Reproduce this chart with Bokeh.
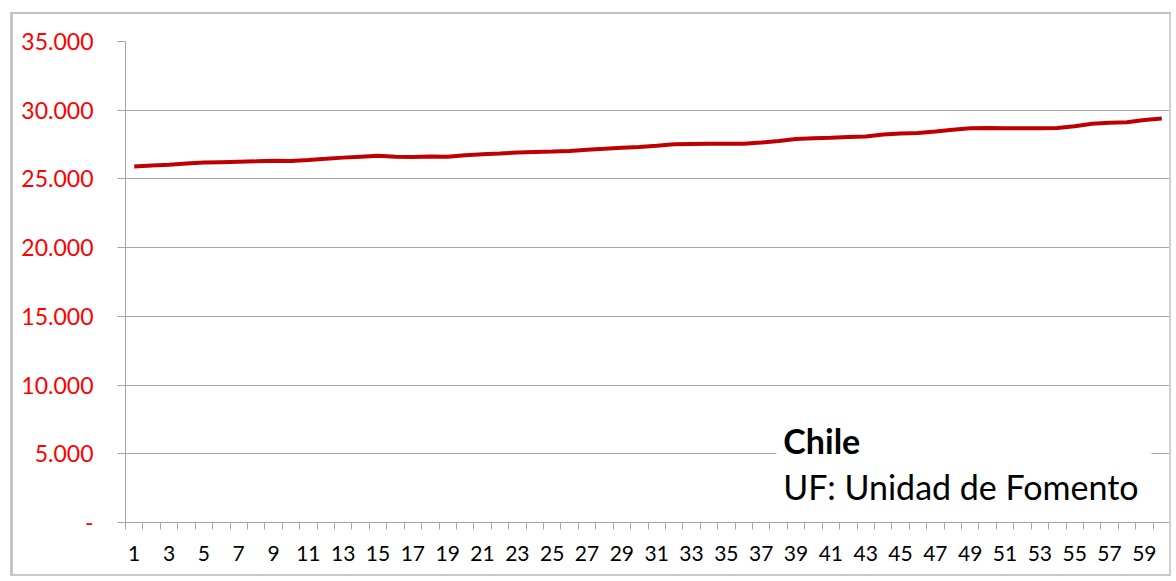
from bokeh.plotting import figure
from bokeh.models import FixedTicker, Label, BoxAnnotation, ColumnDataSource
from bokeh.embed import file_html
from bokeh.resources import INLINE

# Data
periods = list(range(1, 61))
uf_values = [
    25900, 25980, 26040, 26120, 26190, 26220, 26250, 26280, 26330, 26310,
    26380, 26460, 26550, 26620, 26680, 26620, 26600, 26640, 26620, 26720,
    26800, 26850, 26920, 26960, 26990, 27040, 27130, 27190, 27260, 27330,
    27420, 27520, 27550, 27560, 27560, 27560, 27650, 27760, 27900, 27960,
    28000, 28050, 28080, 28230, 28300, 28340, 28450, 28580, 28680, 28700,
    28690, 28680, 28680, 28710, 28840, 29020, 29080, 29130, 29290, 29400,
]
y_ticks = [0, 5000, 10000, 15000, 20000, 25000, 30000, 35000]
y_tick_labels = ["-", "5.000", "10.000", "15.000", "20.000", "25.000", "30.000", "35.000"]
x_label_ticks = list(range(1, 61, 2))
title_text = "Chile"
subtitle_text = "UF: Unidad de Fomento"

FONT = "Lato"
GRID = "#a6a6a6"

p = figure(width=1161, height=564, output_backend="svg", toolbar_location=None,
           x_range=(0.5, 60.5), y_range=(0, 35000),
           min_border_left=112, min_border_right=4, min_border_top=27, min_border_bottom=56)
p.styles = {"margin-left": "10px", "margin-top": "12px",
            "border-left": "3px solid #c6c6c6", "border-top": "2px solid #c0c0c0",
            "border-right": "2px solid #d0d0d0", "border-bottom": "2px solid #c8c8c8"}
p.outline_line_color = None
p.background_fill_color = "white"
p.border_fill_color = "white"

src = ColumnDataSource(dict(x=periods, y=uf_values))
p.line("x", "y", source=src, line_color="#c00000", line_width=4)

# y axis
p.yaxis.ticker = FixedTicker(ticks=y_ticks)
p.yaxis.major_label_overrides = {t: l for t, l in zip(y_ticks, y_tick_labels)}
p.yaxis.major_label_text_color = "#ff0000"
p.yaxis.major_label_text_font = FONT
p.yaxis.major_label_text_font_size = "23px"
p.yaxis.major_label_standoff = 24
p.yaxis.axis_line_color = GRID
p.yaxis.major_tick_line_color = GRID
p.yaxis.major_tick_in = 0
p.yaxis.major_tick_out = 8
p.yaxis.minor_tick_line_color = None

# x axis
bounds = [i + 0.5 for i in range(0, 61)]
p.xaxis.ticker = FixedTicker(ticks=x_label_ticks, minor_ticks=bounds)
p.xaxis.major_label_text_font = FONT
p.xaxis.major_label_text_font_size = "21px"
p.xaxis.major_label_text_color = "black"
p.xaxis.major_label_standoff = 16
p.xaxis.axis_line_color = GRID
p.xaxis.major_tick_line_color = None
p.xaxis.major_tick_in = 0
p.xaxis.major_tick_out = 0
p.xaxis.minor_tick_line_color = GRID
p.xaxis.minor_tick_in = 0
p.xaxis.minor_tick_out = 7

p.xgrid.grid_line_color = None
p.ygrid.ticker = FixedTicker(ticks=y_ticks[1:])
p.ygrid.grid_line_color = GRID
p.ygrid.grid_line_width = 1

# text box
box = BoxAnnotation(left=37.87, right=59.4, bottom=900, top=7000,
                    fill_color="white", fill_alpha=1.0, line_color=None)
p.add_layout(box)
p.add_layout(Label(x=38.27, y=5960, text=title_text, text_font=FONT,
                   text_font_style="bold", text_font_size="34px", text_baseline="middle",
                   text_color="black"))
p.add_layout(Label(x=38.27, y=2620, text=subtitle_text, text_font=FONT,
                   text_font_size="34px", text_baseline="middle", text_color="black"))

open("out.html", "w").write(file_html(p, INLINE))
